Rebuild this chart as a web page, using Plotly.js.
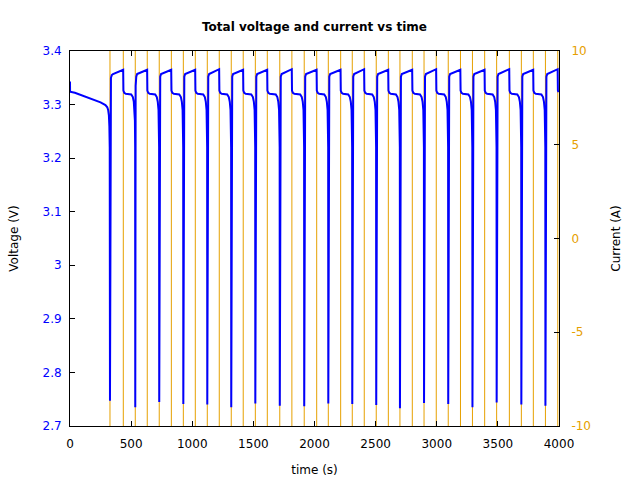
<!DOCTYPE html>
<html>
<head>
<meta charset="utf-8">
<script src="https://cdn.plot.ly/plotly-3.0.1.min.js"></script>
<style>html,body{margin:0;padding:0;background:#fff;}#chart{width:640px;height:480px;}</style>
</head>
<body>
<div id="chart"></div>
<script>
// ---- Data ----
// Voltage trace: time (s) and voltage (V), one line per charge/discharge cycle
var timeV = [
  0, 0.5, 40, 100, 150, 200, 250, 290, 305, 312, 318, 322, 325,
  327, 330, 335, 342, 352, 435, 437, 444, 456, 501, 514, 522, 528, 531, 533,
  534, 537, 542, 549, 559, 631, 633, 640, 652, 697, 710, 718, 724, 727, 729,
  730, 733, 738, 745, 755, 828, 830, 837, 849, 894, 907, 915, 921, 924, 926,
  927, 930, 935, 942, 952, 1024, 1026, 1033, 1045, 1090, 1103, 1111, 1117, 1120, 1122,
  1123, 1126, 1131, 1138, 1148, 1220, 1222, 1229, 1241, 1286, 1299, 1307, 1313, 1316, 1318,
  1319, 1322, 1327, 1334, 1344, 1416, 1418, 1425, 1437, 1483, 1496, 1504, 1510, 1513, 1515,
  1516, 1519, 1524, 1531, 1541, 1613, 1615, 1622, 1634, 1683, 1696, 1704, 1710, 1713, 1715,
  1716, 1719, 1724, 1731, 1741, 1814, 1816, 1823, 1835, 1883, 1896, 1904, 1910, 1913, 1915,
  1916, 1919, 1924, 1931, 1941, 2017, 2019, 2026, 2038, 2080, 2093, 2101, 2107, 2110, 2112,
  2113, 2116, 2121, 2128, 2138, 2213, 2215, 2222, 2234, 2276, 2289, 2297, 2303, 2306, 2308,
  2309, 2312, 2317, 2324, 2334, 2406, 2408, 2415, 2427, 2472, 2485, 2493, 2499, 2502, 2504,
  2505, 2508, 2513, 2520, 2530, 2603, 2605, 2612, 2624, 2666, 2679, 2687, 2693, 2696, 2698,
  2699, 2702, 2707, 2714, 2724, 2799, 2801, 2808, 2820, 2863, 2876, 2884, 2890, 2893, 2895,
  2896, 2899, 2904, 2911, 2921, 2995, 2997, 3004, 3016, 3061, 3074, 3082, 3088, 3091, 3093,
  3094, 3097, 3102, 3109, 3119, 3193, 3195, 3202, 3214, 3259, 3272, 3280, 3286, 3289, 3291,
  3292, 3295, 3300, 3307, 3317, 3391, 3393, 3400, 3412, 3457, 3470, 3478, 3484, 3487, 3489,
  3490, 3493, 3498, 3505, 3515, 3593, 3595, 3602, 3614, 3659, 3672, 3680, 3686, 3689, 3691,
  3692, 3695, 3700, 3707, 3717, 3789, 3791, 3798, 3810, 3856, 3869, 3877, 3883, 3886, 3888,
  3889, 3892, 3897, 3904, 3914, 3989, 3991, 3996
];
var voltage = [
  3.343, 3.324, 3.322, 3.317, 3.313, 3.309, 3.304, 3.299, 3.295, 3.290, 3.280, 3.260, 3.220,
  2.747, 3.335, 3.350, 3.355, 3.357, 3.365, 3.326, 3.322, 3.320, 3.319, 3.314, 3.305, 3.290, 3.270, 3.220,
  2.735, 3.335, 3.352, 3.357, 3.358, 3.365, 3.326, 3.322, 3.320, 3.319, 3.314, 3.305, 3.290, 3.270, 3.220,
  2.745, 3.335, 3.352, 3.357, 3.358, 3.365, 3.326, 3.322, 3.320, 3.319, 3.314, 3.305, 3.290, 3.270, 3.220,
  2.741, 3.335, 3.352, 3.357, 3.358, 3.365, 3.326, 3.322, 3.320, 3.319, 3.314, 3.305, 3.290, 3.270, 3.220,
  2.740, 3.335, 3.352, 3.357, 3.358, 3.366, 3.326, 3.322, 3.320, 3.319, 3.314, 3.305, 3.290, 3.270, 3.220,
  2.735, 3.335, 3.352, 3.357, 3.358, 3.365, 3.326, 3.322, 3.320, 3.319, 3.314, 3.305, 3.290, 3.270, 3.220,
  2.742, 3.335, 3.352, 3.357, 3.358, 3.365, 3.326, 3.322, 3.320, 3.319, 3.314, 3.305, 3.290, 3.270, 3.220,
  2.738, 3.335, 3.352, 3.357, 3.358, 3.366, 3.326, 3.322, 3.320, 3.319, 3.314, 3.305, 3.290, 3.270, 3.220,
  2.737, 3.335, 3.352, 3.357, 3.358, 3.365, 3.326, 3.322, 3.320, 3.319, 3.314, 3.305, 3.290, 3.270, 3.220,
  2.742, 3.335, 3.352, 3.357, 3.358, 3.365, 3.326, 3.322, 3.320, 3.319, 3.314, 3.305, 3.290, 3.270, 3.220,
  2.741, 3.335, 3.352, 3.357, 3.358, 3.366, 3.326, 3.322, 3.320, 3.319, 3.314, 3.305, 3.290, 3.270, 3.220,
  2.739, 3.335, 3.352, 3.357, 3.358, 3.365, 3.326, 3.322, 3.320, 3.319, 3.314, 3.305, 3.290, 3.270, 3.220,
  2.733, 3.335, 3.352, 3.357, 3.358, 3.365, 3.326, 3.322, 3.320, 3.319, 3.314, 3.305, 3.290, 3.270, 3.220,
  2.743, 3.335, 3.352, 3.357, 3.358, 3.366, 3.326, 3.322, 3.320, 3.319, 3.314, 3.305, 3.290, 3.270, 3.220,
  2.741, 3.335, 3.352, 3.357, 3.358, 3.365, 3.326, 3.322, 3.320, 3.319, 3.314, 3.305, 3.290, 3.270, 3.220,
  2.735, 3.335, 3.352, 3.357, 3.358, 3.365, 3.326, 3.322, 3.320, 3.319, 3.314, 3.305, 3.290, 3.270, 3.220,
  2.744, 3.335, 3.352, 3.357, 3.358, 3.366, 3.326, 3.322, 3.320, 3.319, 3.314, 3.305, 3.290, 3.270, 3.220,
  2.740, 3.335, 3.352, 3.357, 3.358, 3.365, 3.326, 3.322, 3.320, 3.319, 3.314, 3.305, 3.290, 3.270, 3.220,
  2.738, 3.335, 3.352, 3.357, 3.358, 3.366, 3.326, 3.323
];
// Current trace: switching times (s) and current (A) after each switch (values lie beyond the +/-10 A axis range)
var timeI = [0, 327, 436, 534, 632, 730, 829, 927, 1025, 1123, 1221, 1319, 1417, 1516, 1614, 1716, 1815,
  1916, 2018, 2113, 2214, 2309, 2407, 2505, 2604, 2699, 2800, 2896, 2996, 3094, 3194, 3292, 3392,
  3490, 3594, 3692, 3790, 3889, 3990, 4000];
var current = [-20, 20, -20, 20, -20, 20, -20, 20, -20, 20, -20, 20, -20, 20, -20, 20, -20,
  20, -20, 20, -20, 20, -20, 20, -20, 20, -20, 20, -20, 20, -20, 20, -20,
  20, -20, 20, -20, 20, -20, -20];
// Tick labels
var xTicks = [0, 500, 1000, 1500, 2000, 2500, 3000, 3500, 4000];
var vTicks = [2.7, 2.8, 2.9, 3.0, 3.1, 3.2, 3.3, 3.4];
var vTickText = ['2.7', '2.8', '2.9', '3', '3.1', '3.2', '3.3', '3.4'];
var iTicks = [-10, -5, 0, 5, 10];
var iTickText = ['-10', '-5', '0', '5', '10'];

var BLUE = '#0000ff';
var ORANGE = '#e6a000';
var FONT = 'DejaVu Sans, sans-serif';

var traces = [
  {x: timeI, y: current, type: 'scatter', mode: 'lines', line: {color: ORANGE, width: 1, shape: 'hv'},
   xaxis: 'x', yaxis: 'y', hoverinfo: 'skip', showlegend: false},
  {x: timeV, y: voltage, type: 'scatter', mode: 'lines', line: {color: BLUE, width: 2},
   xaxis: 'x', yaxis: 'y2', showlegend: false}
];

var layout = {
  width: 640, height: 480,
  margin: {l: 70, r: 81, t: 51, b: 54},
  paper_bgcolor: '#fff', plot_bgcolor: '#fff',
  font: {family: FONT, size: 12, color: '#000'},
  showlegend: false,
  title: {text: '<b>Total voltage and current vs time</b>', x: 0.5, xref: 'paper', xanchor: 'center',
          y: 0.945, yref: 'container', yanchor: 'middle', font: {family: FONT, size: 12, color: '#000'}},
  xaxis: {range: [0, 4000], tickvals: xTicks, ticks: 'inside', ticklen: 5, tickcolor: '#000',
          showline: true, linecolor: '#000', linewidth: 1, mirror: 'ticks', showgrid: false, zeroline: false,
          tickfont: {family: FONT, size: 12, color: '#000'}, ticklabelstandoff: 7,
          title: {text: 'time (s)', font: {family: FONT, size: 12, color: '#000'}, standoff: 15}},
  yaxis: {range: [-10, 10], side: 'right', tickvals: iTicks, ticktext: iTickText, ticks: 'inside', ticklen: 5,
          tickcolor: '#000', showline: true, linecolor: '#000', linewidth: 1, showgrid: false, zeroline: false,
          tickfont: {family: FONT, size: 12, color: ORANGE}, ticklabelstandoff: 9,
          title: {text: 'Current (A)', font: {family: FONT, size: 12, color: '#000'}, standoff: 21}},
  yaxis2: {range: [2.7, 3.4], side: 'left', overlaying: 'y', tickvals: vTicks, ticktext: vTickText,
           ticks: 'inside', ticklen: 5, tickcolor: '#000', showline: true, linecolor: '#000', linewidth: 1,
           showgrid: false, zeroline: false, tickfont: {family: FONT, size: 12, color: BLUE}, ticklabelstandoff: 5,
           title: {text: 'Voltage (V)', font: {family: FONT, size: 12, color: '#000'}, standoff: 21}}
};

Plotly.newPlot('chart', traces, layout, {displayModeBar: false, staticPlot: true});
</script>
</body>
</html>
